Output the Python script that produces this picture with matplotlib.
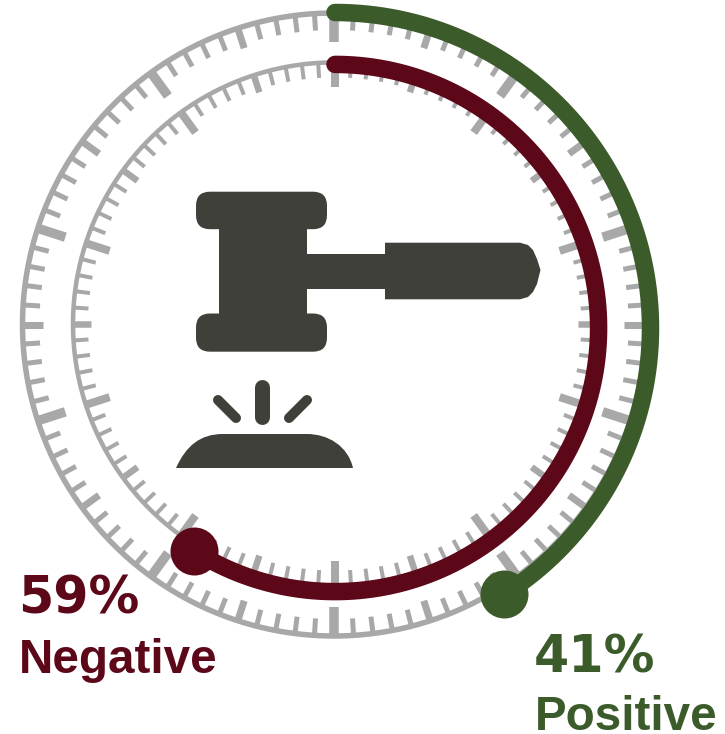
import numpy as np
import matplotlib
matplotlib.use('Agg')
import matplotlib.pyplot as plt
from matplotlib.collections import LineCollection
from matplotlib.patches import FancyBboxPatch, PathPatch, Polygon, Rectangle
from matplotlib.path import Path

# values
labels = ['Positive', 'Negative']
percents = [41, 59]
colors = ['#3b5b2a', '#5c0819']

GRAY = '#a8a8a8'
DARK = '#40403a'
px = 72 / 100  # pixel -> point at dpi 100

plt.rcParams['font.family'] = ['Liberation Sans', 'DejaVu Sans']

fig = plt.figure(figsize=(7.25, 7.34), dpi=100)
ax = fig.add_axes([0, 0, 1, 1])
ax.set_xlim(0, 725)
ax.set_ylim(734, 0)
ax.axis('off')


def polar(cx, cy, r, angle):
    # angle in radians, clockwise from the top
    return cx + r * np.sin(angle), cy - r * np.cos(angle)


def dial(cx, cy, r, lengths, widths, ring_w):
    # gray ring with 100 ticks pointing inward
    t = np.linspace(0, 2 * np.pi, 400)
    ax.plot(*polar(cx, cy, r, t), color=GRAY, lw=ring_w * px, zorder=1)
    groups = [[], [], []]
    for i in range(100):
        kind = 2 if i % 10 == 0 else 1 if i % 5 == 0 else 0
        a = i / 100 * 2 * np.pi
        groups[kind].append([polar(cx, cy, r, a),
                             polar(cx, cy, r - lengths[kind], a)])
    for kind in range(3):
        ax.add_collection(LineCollection(groups[kind], colors=GRAY,
                                         linewidths=widths[kind] * px,
                                         capstyle='butt', zorder=1))


dial(334, 324.5, 311.5, (17, 21, 29), (5, 7, 9.5), 5.5)
dial(334.6, 324, 261.6, (15, 18, 25), (4, 6.5, 8), 4.5)


# arcs and end dots
def arc(r, value, color):
    t = np.linspace(0, value / 100 * 2 * np.pi, 300)
    ax.plot(*polar(335, 328, r, t), color=color, lw=17.5 * px,
            solid_capstyle='round', zorder=3)
    ax.scatter(*polar(335, 328, r, t[-1]), s=(48 * px) ** 2, color=color,
               linewidths=0, zorder=4)


arc(315.5, percents[0], colors[0])
arc(263.6, percents[1], colors[1])

# gavel head
for x, y, w, h in [(196, 191.7, 131, 37.5), (196, 313.5, 131, 38.2)]:
    ax.add_patch(FancyBboxPatch((x, y), w, h, boxstyle='round,pad=0,rounding_size=14',
                                fc=DARK, ec='none', zorder=2))
ax.add_patch(Rectangle((219, 225), 88, 92, fc=DARK, ec='none', zorder=2))
# shaft and handle
ax.add_patch(Rectangle((305, 254), 82, 35, fc=DARK, ec='none', zorder=2))
ax.add_patch(Polygon([(385, 242.7), (520, 242.7), (528, 245), (533, 250), (537, 259),
                      (540.5, 270), (537, 284), (533, 292), (528, 297), (520, 299.3),
                      (385, 299.3)], closed=True, fc=DARK, ec='none', zorder=2))

# sound marks
ax.plot([262.5, 262.5], [387, 417], color=DARK, lw=15 * px,
        solid_capstyle='round', zorder=2)
ax.plot([218, 236], [400, 418], color=DARK, lw=10 * px,
        solid_capstyle='round', zorder=2)
ax.plot([307, 289], [400, 418], color=DARK, lw=10 * px,
        solid_capstyle='round', zorder=2)

# block
block = Path([(176, 468), (186, 446), (200, 434), (223, 434), (307, 434),
              (328, 434), (348, 446), (353, 468), (176, 468)],
             [Path.MOVETO, Path.CURVE4, Path.CURVE4, Path.CURVE4, Path.LINETO,
              Path.CURVE4, Path.CURVE4, Path.CURVE4, Path.CLOSEPOLY])
ax.add_patch(PathPatch(block, fc=DARK, ec='none', zorder=2))

# labels
pct_font = ['DejaVu Sans']
ax.text(18, 613, f'{percents[1]}%', color=colors[1], fontsize=36.5,
        fontweight='bold', va='baseline', ha='left', family=pct_font)
ax.text(19, 672.7, labels[1], color=colors[1], fontsize=34.3,
        fontweight='bold', va='baseline', ha='left')
ax.text(534, 672.7, f'{percents[0]}%', color=colors[0], fontsize=36.5,
        fontweight='bold', va='baseline', ha='left', family=pct_font)
ax.text(535, 730, labels[0], color=colors[0], fontsize=34.3,
        fontweight='bold', va='baseline', ha='left')

fig.savefig('out.png', dpi=100)
